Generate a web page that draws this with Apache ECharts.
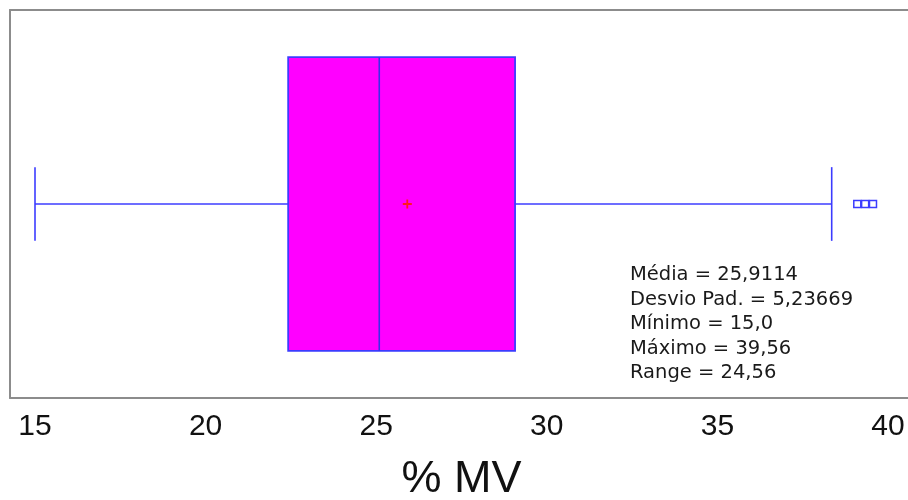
<!DOCTYPE html>
<html>
<head>
<meta charset="utf-8">
<script src="https://cdn.jsdelivr.net/npm/echarts@6/dist/echarts.min.js"></script>
<style>
html,body{margin:0;padding:0;background:#fff;}
#chart{width:908px;height:500px;}
</style>
</head>
<body>
<div id="chart"></div>
<script>
// ---- data ----
var categories = ['% MV'];
var boxStats = [15.0, 22.42, 25.09, 29.07, 38.35]; // min(whisker), Q1, median, Q3, max(whisker)
var meanValue = [25.9114];
var outlierValues = [39.10, 39.33, 39.56];
var xTicks = [15, 20, 25, 30, 35, 40];
var axisTitle = '% MV';
var statLabels = ['Média', 'Desvio Pad.', 'Mínimo', 'Máximo', 'Range'];
var statValues = ['25,9114', '5,23669', '15,0', '39,56', '24,56'];

var chart = echarts.init(document.getElementById('chart'), null, {renderer: 'canvas'});

var BLUE = '#3c3cff';
var FRAME = {show: true, onZero: false, lineStyle: {color: '#8c8c8c', width: 2}};
var boxData = [[0].concat(boxStats)];

var statText = statLabels.map(function (l, i) { return l + ' = ' + statValues[i]; }).join('\n');

var option = {
  backgroundColor: '#ffffff',
  animation: false,
  grid: [
    {left: 10, top: 10, width: 930, height: 388, outerBoundsMode: 'none', containLabel: false},
    {left: 35, top: 10, width: 853, height: 388, outerBoundsMode: 'none', containLabel: false}
  ],
  xAxis: [
    {gridIndex: 0, type: 'value', min: 0, max: 1, position: 'bottom',
      axisLine: FRAME, axisTick: {show: false}, axisLabel: {show: false}, splitLine: {show: false}},
    {gridIndex: 0, type: 'value', min: 0, max: 1, position: 'top',
      axisLine: FRAME, axisTick: {show: false}, axisLabel: {show: false}, splitLine: {show: false}},
    {
      gridIndex: 1, type: 'value', min: xTicks[0], max: xTicks[xTicks.length - 1], interval: 5,
      axisLine: {show: false}, axisTick: {show: false}, splitLine: {show: false},
      axisLabel: {fontFamily: 'Liberation Sans', fontSize: 30, color: '#111', margin: 14},
      name: axisTitle, nameLocation: 'middle', nameGap: 59,
      nameTextStyle: {fontFamily: 'Liberation Sans', fontSize: 45, color: '#111'}
    }
  ],
  yAxis: [
    {gridIndex: 0, type: 'value', min: 0, max: 1, position: 'left',
      axisLine: FRAME, axisTick: {show: false}, axisLabel: {show: false}, splitLine: {show: false}},
    {gridIndex: 1, type: 'category', data: categories, show: false}
  ],
  series: [
    {
      type: 'custom',
      xAxisIndex: 2, yAxisIndex: 1,
      data: boxData,
      encode: {x: [1, 2, 3, 4, 5], y: 0},
      renderItem: function (params, api) {
        var cat = api.value(0);
        var band = api.size([0, 1])[1];
        var bh = band * 0.757;
        var ch = band * 0.19;
        var pMin = api.coord([api.value(1), cat]);
        var pQ1 = api.coord([api.value(2), cat]);
        var pMed = api.coord([api.value(3), cat]);
        var pQ3 = api.coord([api.value(4), cat]);
        var pMax = api.coord([api.value(5), cat]);
        var cy = pMin[1];
        var ls = {stroke: BLUE, lineWidth: 1.6};
        return {
          type: 'group',
          children: [
            {type: 'line', shape: {x1: pMin[0], y1: cy, x2: pQ1[0], y2: cy}, style: ls},
            {type: 'line', shape: {x1: pQ3[0], y1: cy, x2: pMax[0], y2: cy}, style: ls},
            {type: 'line', shape: {x1: pMin[0], y1: cy - ch / 2, x2: pMin[0], y2: cy + ch / 2}, style: ls},
            {type: 'line', shape: {x1: pMax[0], y1: cy - ch / 2, x2: pMax[0], y2: cy + ch / 2}, style: ls},
            {type: 'rect', shape: {x: pQ1[0], y: cy - bh / 2, width: pQ3[0] - pQ1[0], height: bh},
              style: {fill: '#ff00ff', stroke: BLUE, lineWidth: 1.8}},
            {type: 'line', shape: {x1: pMed[0], y1: cy - bh / 2, x2: pMed[0], y2: cy + bh / 2},
              style: {stroke: '#3a2ee8', lineWidth: 1.6}}
          ]
        };
      }
    },
    {
      type: 'scatter',
      xAxisIndex: 2, yAxisIndex: 1,
      data: meanValue.map(function (v) { return [v, 0]; }),
      symbol: 'path://M4,0h2v4h4v2h-4v4h-2v-4h-4v-2h4z',
      symbolSize: 9,
      itemStyle: {color: '#ff1a1a', opacity: 1}
    },
    {
      type: 'scatter',
      xAxisIndex: 2, yAxisIndex: 1,
      data: outlierValues.map(function (v) { return [v, 0]; }),
      symbol: 'rect',
      symbolSize: 7,
      itemStyle: {color: '#ffffff', borderColor: BLUE, borderWidth: 1.5, opacity: 1}
    }
  ],
  graphic: [
    {
      type: 'text', left: 630, top: 263,
      style: {text: statText, font: '19.5px "DejaVu Sans"', fill: '#1a1a1a', lineHeight: 24.5}
    }
  ]
};
chart.setOption(option);
</script>
</body>
</html>
